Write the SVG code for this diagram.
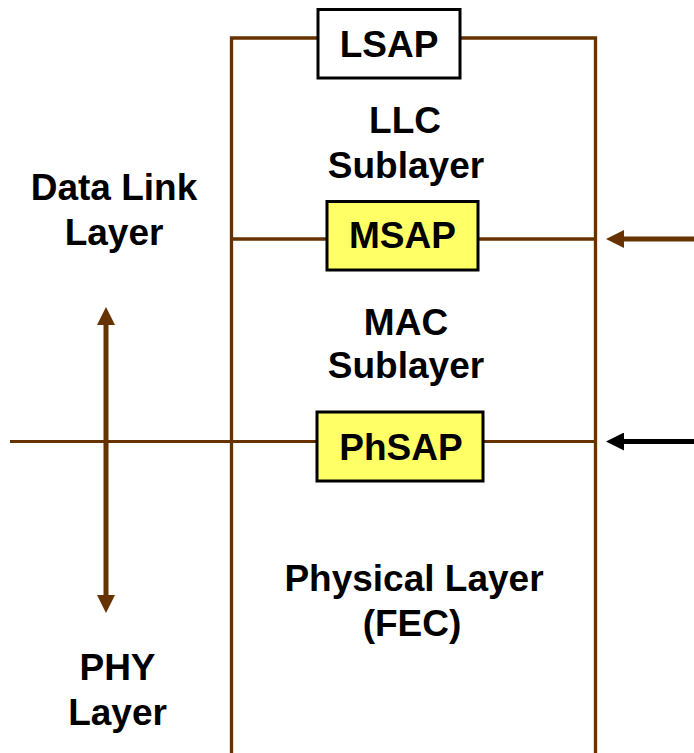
<svg xmlns="http://www.w3.org/2000/svg" width="694" height="753" viewBox="0 0 694 753">
  <style>
    .lbl { font-family: "Liberation Sans", Arial, sans-serif; font-weight: bold; font-size: 37px; fill: #000; text-anchor: middle; }
    .brown { stroke: #663300; fill: none; }
    .sap { stroke: #000; stroke-width: 3; }
  </style>
  <defs>
    <marker id="ahBrown" markerUnits="userSpaceOnUse" viewBox="0 0 18 18" markerWidth="18" markerHeight="18" refX="8" refY="9" orient="auto-start-reverse">
      <path d="M0,0 L18,9 L0,18 z" fill="#663300"/>
    </marker>
    <marker id="ahBlack" markerUnits="userSpaceOnUse" viewBox="0 0 18 18" markerWidth="18" markerHeight="18" refX="8" refY="9" orient="auto">
      <path d="M0,0 L18,9 L0,18 z" fill="#000"/>
    </marker>
  </defs>
  <rect width="694" height="753" fill="#fff"/>

  <g id="connectors">
    <path class="brown" stroke-width="3.3" d="M231.5,753 V38 H595.5 V753"/>
    <line class="brown" stroke-width="3.5" x1="231.5" y1="239" x2="595.5" y2="239"/>
    <line class="brown" stroke-width="3" x1="10" y1="441.5" x2="595.5" y2="441.5"/>
    <line stroke="#663300" stroke-width="5" x1="694" y1="239" x2="616" y2="239" marker-end="url(#ahBrown)"/>
    <line stroke="#000" stroke-width="5" x1="694" y1="441.5" x2="616" y2="441.5" marker-end="url(#ahBlack)"/>
    <line stroke="#663300" stroke-width="5" x1="106" y1="317" x2="106" y2="603" marker-start="url(#ahBrown)" marker-end="url(#ahBrown)"/>
  </g>

  <g id="lsap">
    <rect class="sap" x="318" y="9.5" width="142" height="68.5" fill="#fff"/>
    <text class="lbl" x="389" y="57">LSAP</text>
  </g>
  <g id="llc">
    <text class="lbl" x="405" y="133">LLC</text>
    <text class="lbl" x="406" y="178">Sublayer</text>
  </g>
  <g id="datalink">
    <text class="lbl" x="114" y="200">Data Link</text>
    <text class="lbl" x="114" y="245">Layer</text>
  </g>
  <g id="msap">
    <rect class="sap" x="327" y="201.5" width="151" height="68.5" fill="#ffff66"/>
    <text class="lbl" x="402.5" y="248">MSAP</text>
  </g>
  <g id="mac">
    <text class="lbl" x="406" y="335">MAC</text>
    <text class="lbl" x="406" y="378">Sublayer</text>
  </g>
  <g id="phsap">
    <rect class="sap" x="317" y="412" width="166" height="69" fill="#ffff66"/>
    <text class="lbl" x="401" y="460">PhSAP</text>
  </g>
  <g id="physical">
    <text class="lbl" x="414" y="591">Physical Layer</text>
    <text class="lbl" x="412" y="636">(FEC)</text>
  </g>
  <g id="phy">
    <text class="lbl" x="117.5" y="680">PHY</text>
    <text class="lbl" x="117.5" y="725">Layer</text>
  </g>
</svg>
